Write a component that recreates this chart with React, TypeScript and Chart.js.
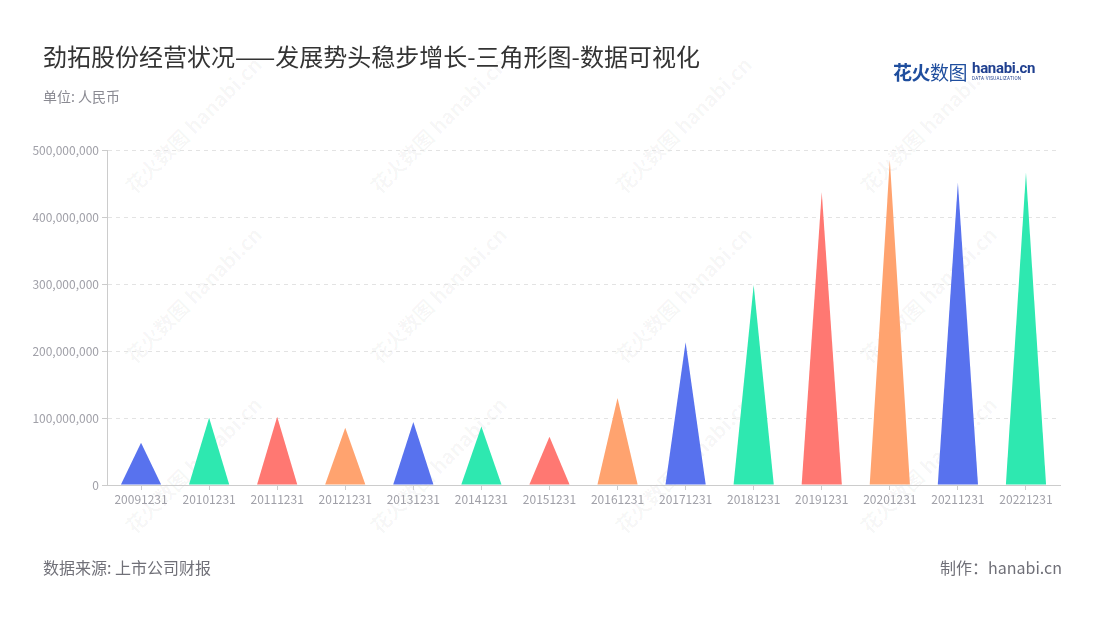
import React, { useEffect, useRef } from "react";
import { Chart, registerables } from "chart.js";

Chart.register(...registerables);

const categories = [
  "20091231", "20101231", "20111231", "20121231", "20131231", "20141231", "20151231",
  "20161231", "20171231", "20181231", "20191231", "20201231", "20211231", "20221231",
];
const values = [
  63000000, 100500000, 102000000, 85500000, 94000000, 87500000, 72000000,
  130000000, 213000000, 298500000, 437000000, 485000000, 451500000, 466000000,
];
const palette = ["#5872ee", "#2ee8b0", "#ff7872", "#ffa36f"];
const yTicks = [0, 100000000, 200000000, 300000000, 400000000, 500000000];

const FONT = '"Noto Sans CJK SC", "Noto Sans", sans-serif';

const trianglePlugin = {
  id: "triangles",
  afterDatasetsDraw(chart: any) {
    const ctx = chart.ctx;
    const meta = chart.getDatasetMeta(0);
    ctx.save();
    meta.data.forEach((el: any, i: number) => {
      const { x, y, base, width } = el.getProps(["x", "y", "base", "width"], true);
      ctx.beginPath();
      ctx.moveTo(x - width / 2, base);
      ctx.lineTo(x, y);
      ctx.lineTo(x + width / 2, base);
      ctx.closePath();
      ctx.fillStyle = palette[i % palette.length];
      ctx.fill();
    });
    ctx.restore();
  },
};

const watermarkPositions: [number, number][] = [];
[185, 430, 675, 920].forEach((x) => {
  [130, 300, 470].forEach((y) => watermarkPositions.push([x, y]));
});

export default function App() {
  const canvasRef = useRef<HTMLCanvasElement | null>(null);

  useEffect(() => {
    if (!canvasRef.current) return;
    const chart = new Chart(canvasRef.current, {
      type: "bar",
      data: {
        labels: categories,
        datasets: [
          {
            data: values,
            backgroundColor: "rgba(0,0,0,0)",
            borderWidth: 0,
            categoryPercentage: 1,
            barPercentage: 0.59,
          },
        ],
      },
      options: {
        animation: false,
        responsive: false,
        maintainAspectRatio: false,
        layout: { padding: { left: 0, right: 40, top: 150, bottom: 105 } },
        plugins: { legend: { display: false }, tooltip: { enabled: false } },
        scales: {
          x: {
            offset: true,
            grid: {
              display: true,
              drawOnChartArea: false,
              drawTicks: true,
              tickLength: 5,
              color: "#cccccc",
              offset: false,
            },
            border: { display: true, color: "#cccccc", width: 1 },
            ticks: {
              color: "#a0a0a8",
              font: { family: FONT, size: 12 },
              padding: 2,
              maxRotation: 0,
              autoSkip: false,
            },
            afterFit(scale: any) {
              scale.height = 30;
            },
          },
          y: {
            min: 0,
            max: 500000000,
            afterBuildTicks(scale: any) {
              scale.ticks = yTicks.map((v) => ({ value: v }));
            },
            grid: {
              color: "#e3e3e3",
              tickColor: "#cccccc",
              drawTicks: true,
              tickLength: 5,
            } as any,
            border: { display: true, color: "#cccccc", width: 1, dash: [4, 4] } as any,
            ticks: {
              color: "#a0a0a8",
              font: { family: FONT, size: 12 },
              padding: 3,
              callback: (v: any) => Number(v).toLocaleString("en-US"),
            },
            afterFit(scale: any) {
              scale.width = 107;
            },
          },
        },
      },
      plugins: [trianglePlugin],
    });
    return () => chart.destroy();
  }, []);

  return (
    <div
      style={{
        position: "fixed",
        left: 0,
        top: 0,
        width: 1100,
        height: 620,
        background: "#ffffff",
        fontFamily: FONT,
        overflow: "hidden",
      }}
    >
      {watermarkPositions.map(([x, y], i) => (
        <div
          key={i}
          style={{
            position: "absolute",
            left: x - 80,
            top: y - 12,
            width: 160,
            textAlign: "center",
            transform: "rotate(-45deg)",
            color: "rgba(0,0,0,0.04)",
            fontSize: 20,
            fontWeight: 700,
            whiteSpace: "nowrap",
            pointerEvents: "none",
          }}
        >
          花火数图 hanabi.cn
        </div>
      ))}
      <canvas
        ref={canvasRef}
        width={1100}
        height={620}
        style={{ position: "absolute", left: 0, top: 0, width: 1100, height: 620 }}
      />
      <div
        style={{
          position: "absolute",
          left: 43,
          top: 38,
          fontSize: 24,
          color: "#333333",
          whiteSpace: "nowrap",
        }}
      >
        劲拓股份经营状况——发展势头稳步增长-三角形图-数据可视化
      </div>
      <div
        style={{
          position: "absolute",
          left: 43,
          top: 86,
          fontSize: 14,
          color: "#8a8a92",
          whiteSpace: "nowrap",
        }}
      >
        单位: 人民币
      </div>
      <div
        style={{
          position: "absolute",
          left: 893,
          top: 58,
          display: "flex",
          alignItems: "center",
          whiteSpace: "nowrap",
        }}
      >
        <span style={{ fontSize: 19, fontWeight: 700, color: "#1f4e9e", letterSpacing: -0.5 }}>花火</span>
        <span style={{ fontSize: 19, fontWeight: 400, color: "#1f4e9e", letterSpacing: -0.5 }}>数图</span>
        <span style={{ display: "inline-block", marginLeft: 5, lineHeight: 1 }}>
          <span style={{ display: "block", fontSize: 15, fontWeight: 700, color: "#1f3f8f", fontFamily: "Roboto, sans-serif", letterSpacing: -0.3 }}>
            hanabi.cn
          </span>
          <span style={{ display: "block", fontSize: 4.5, color: "#1f3f8f", fontFamily: "Roboto, sans-serif", letterSpacing: 0.3, marginTop: 1 }}>
            DATA VISUALIZATION
          </span>
        </span>
      </div>
      <div
        style={{
          position: "absolute",
          left: 43,
          top: 555,
          fontSize: 16,
          color: "#707078",
          whiteSpace: "nowrap",
        }}
      >
        数据来源: 上市公司财报
      </div>
      <div
        style={{
          position: "absolute",
          right: 38,
          top: 555,
          fontSize: 16,
          color: "#707078",
          whiteSpace: "nowrap",
        }}
      >
        制作：hanabi.cn
      </div>
    </div>
  );
}
